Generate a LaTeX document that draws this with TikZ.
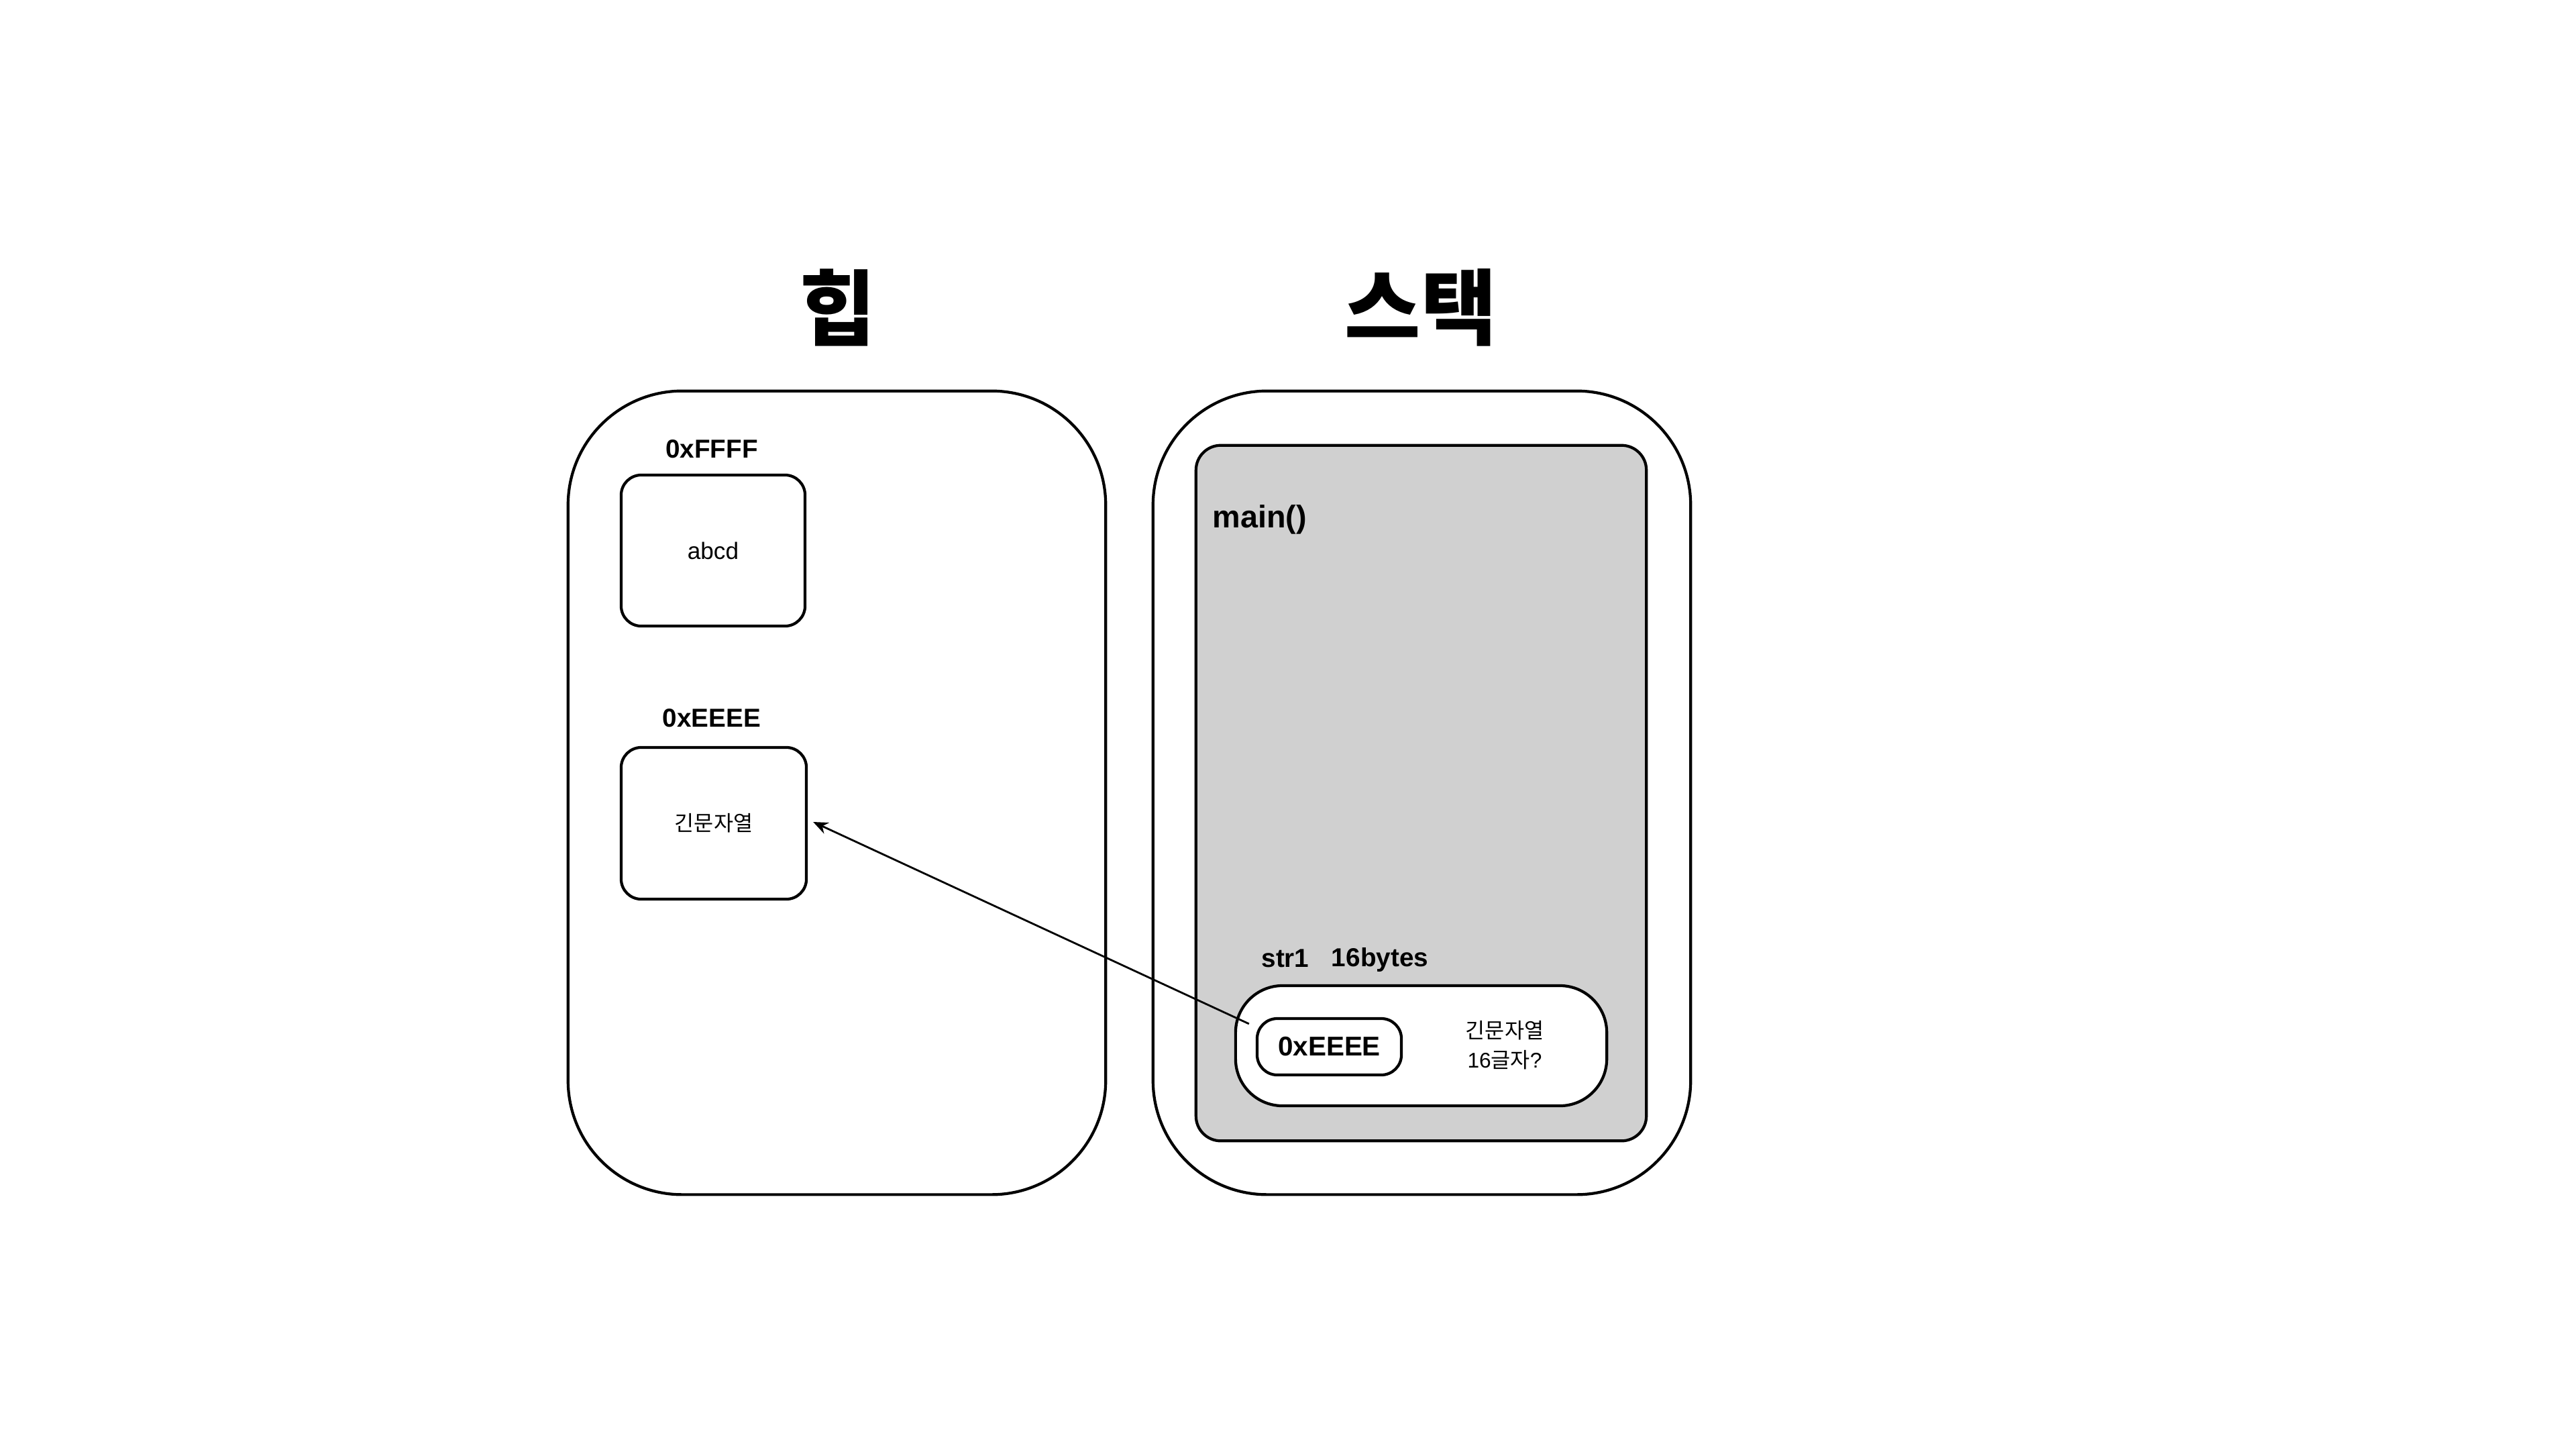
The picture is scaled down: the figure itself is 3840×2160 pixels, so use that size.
\documentclass[tikz,border=0pt]{standalone}
\usepackage{fontspec}
\setmainfont{Liberation Sans}
\newfontfamily\kr{Noto Sans CJK KR}
\usetikzlibrary{arrows.meta,calc}
\definecolor{framegray}{RGB}{208,208,208}
\begin{document}
\begin{tikzpicture}[x=0.01cm,y=-0.01cm,
  memarea/.style={draw, line width=1.2pt, rounded corners=17mm, minimum width=80.1mm, minimum height=119.7mm, inner sep=0pt},
  cell/.style={draw, line width=1.2pt, fill=white, inner sep=0pt},
  lbl/.style={font=\fontsize{11}{13}\selectfont\bfseries, inner sep=0pt},
  krtxt/.style={font=\fontsize{9}{12.5}\selectfont, align=center, inner sep=0pt},
  title/.style={font=\kr\bfseries\fontsize{35}{40}\selectfont, inner sep=0pt},
  ptrarrow/.style={-{Stealth[length=2.2mm,width=1.8mm]}, line width=0.8pt}]
\useasboundingbox[fill=white] (0,0) rectangle (3840,2160);

% titles
\node[title] (heaptitle) at (1249,458) {힙};
\node[title] (stacktitle) at (2118,458) {스택};

% memory areas
\node[memarea] (heap) at (1247.5,1181.5) {};
\node[memarea] (stack) at (2119.5,1181.5) {};

% main frame
\node[draw, line width=1.2pt, fill=framegray, rounded corners=3.7mm, minimum width=67.1mm, minimum height=103.6mm, inner sep=0pt] (mainframe) at (2118.5,1182) {};
\node[lbl, font=\fontsize{13.3}{15}\selectfont\bfseries, anchor=west] (mainlbl) at (1807,774) {main()};

% heap cells
\node[lbl] (ffff) at (1061,669) {0xFFFF};
\node[cell, rounded corners=3mm, minimum width=27.4mm, minimum height=22.5mm, font=\fontsize{10}{12}\selectfont] (abcd) at (1063,820.5) {abcd};
\node[lbl] (eeee) at (1061,1070) {0xEEEE};
\node[cell, rounded corners=3mm, minimum width=27.6mm, minimum height=22.6mm, krtxt] (long) at (1064,1227) {{\kr 긴문자열}};

% stack variable
\node[lbl] (str1lbl) at (1916,1428) {str1};
\node[lbl] (byteslbl) at (2057,1430) {16bytes};
\node[cell, rounded corners=7mm, minimum width=55.3mm, minimum height=17.9mm] (str1) at (2118.5,1558.5) {};
\node[cell, rounded corners=3mm, minimum width=21.5mm, minimum height=8.4mm, lbl, font=\fontsize{11.5}{13}\selectfont\bfseries] (ptr) at (1981.5,1560) {0xEEEE};
\node[krtxt] (strtxt) at (2243,1558) {{\kr 긴문자열}\\16{\kr 글자}?};

% pointer arrow
\coordinate (ptrstart) at ($(ptr.north west)+(-10,10)$);
\coordinate (ptrend) at ($(long.east)+(8,-2)$);
\draw[ptrarrow] (ptrstart) -- (ptrend);
\end{tikzpicture}
\end{document}
